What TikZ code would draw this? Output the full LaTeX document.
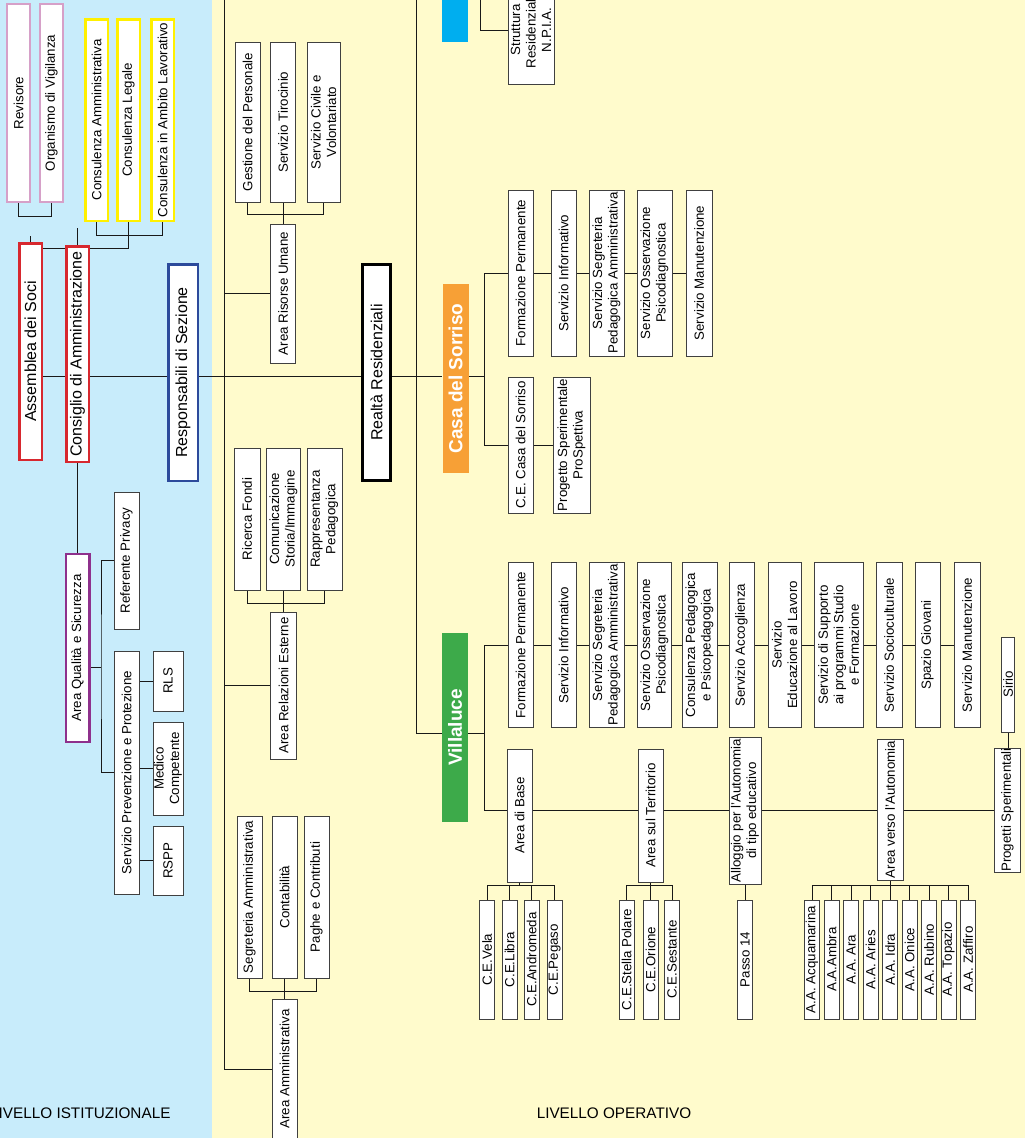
\documentclass[tikz,border=0pt]{standalone}
\usepackage{fontspec}
\setmainfont{Liberation Sans}
\usetikzlibrary{calc}

\pgfdeclarelayer{back}
\pgfdeclarelayer{lines}
\pgfsetlayers{back,lines,main}

\definecolor{bluebg}{RGB}{200,236,251}
\definecolor{yellowbg}{RGB}{255,251,204}
\definecolor{pinkorg}{RGB}{214,160,200}
\definecolor{yellowcons}{RGB}{255,240,0}
\definecolor{redcda}{RGB}{215,40,47}
\definecolor{navyresp}{RGB}{44,74,155}
\definecolor{purplearea}{RGB}{142,48,140}
\definecolor{orangecasa}{RGB}{247,160,54}
\definecolor{greenvl}{RGB}{61,170,74}
\definecolor{cyannpia}{RGB}{0,174,239}

\tikzset{
box/.style={draw=black!75, fill=white, line width=0.9pt, rotate=90, inner sep=0pt, align=center, font=\fontsize{13.3}{15.5}\selectfont},
boxsize/.style 2 args={minimum height=#1pt, minimum width=#2pt},
head/.style={box, line width=2.5pt, font=\fontsize{16}{19}\selectfont},
sede/.style={rotate=90, inner sep=0pt, text=white, font=\fontsize{19}{22}\selectfont\bfseries},
link/.style={draw=black!90, line width=0.9pt}}

\begin{document}
\begin{tikzpicture}[x=1pt, y=-1pt]

                %1 unit = 1 pixel of the 1025x1138 sheet, y grows downwards
                %rotated boxes: east = top, west = bottom, north = left, south = right
                \useasboundingbox (0,0) rectangle (1025,1138);

                \begin{pgfonlayer}{back}
                \fill[bluebg] (0,0) rectangle (212,1138);
                \fill[yellowbg] (212,0) rectangle (1025,1138);
                \end{pgfonlayer}

                %livello istituzionale
                \node[box, draw=pinkorg, line width=2pt, boxsize={23}{198}] (revisore) at (18.5,103) {Revisore};
                \node[box, draw=pinkorg, line width=2pt, boxsize={23}{198}] (organismo) at (51.5,103) {Organismo di Vigilanza};
                \node[box, draw=yellowcons, line width=2.5pt, boxsize={22.5}{201.5}] (consamm) at (96.5,120) {Consulenza Amministrativa};
                \node[box, draw=yellowcons, line width=2.5pt, boxsize={22.5}{201.5}] (conslegale) at (128.5,120) {Consulenza Legale};
                \node[box, draw=yellowcons, line width=2.5pt, boxsize={22.5}{201.5}] (conslav) at (162.5,120) {Consulenza in Ambito Lavorativo};

                \node[head, draw=redcda, boxsize={22.5}{216.5}] (assemblea) at (30.5,351.5) {Assemblea dei Soci};
                \node[head, draw=redcda, boxsize={22.5}{215.5}] (consiglio) at (77.5,354) {Consiglio di Amministrazione};
                \node[head, draw=navyresp, boxsize={29.5}{216.5}] (resp) at (183,372.5) {Responsabili di Sezione};

                \node[box, draw=purplearea, line width=2.2pt, boxsize={23.8}{187.8}] (qualita) at (77.5,648) {Area Qualità e Sicurezza};
                \node[box, boxsize={25}{137}] (privacy) at (126.5,560.5) {Referente Privacy};
                \node[box, boxsize={25}{243}] (spp) at (126.5,772.5) {Servizio Prevenzione e Protezione};
                \node[box, boxsize={30}{60}] (rls) at (168,681) {RLS};
                \node[box, boxsize={30}{93}] (medico) at (168,768.5) {Medico\\Competente};
                \node[box, boxsize={30}{69}] (rspp) at (168,860.5) {RSPP};

                \node[anchor=east, font=\fontsize{15.3}{18}\selectfont] (livist) at (174,1113) {LIVELLO ISTITUZIONALE};

                %livello operativo: aree di sede
                \node[box, boxsize={25}{160}] (gestione) at (247.5,122) {Gestione del Personale};
                \node[box, boxsize={25}{160}] (tirocinio) at (283,122) {Servizio Tirocinio};
                \node[box, boxsize={33}{160}] (civile) at (323.5,122) {Servizio Civile e\\Volontariato};
                \node[box, boxsize={25}{139}] (risorse) at (283,293.5) {Area Risorse Umane};

                \node[box, boxsize={26}{142}] (fondi) at (247,519) {Ricerca Fondi};
                \node[box, boxsize={34}{142}] (comunic) at (283.5,519) {Comunicazione\\Storia/Immagine};
                \node[box, boxsize={35}{142}] (rappr) at (324.5,519) {Rappresentanza\\Pedagogica};
                \node[box, boxsize={26}{147}] (relaz) at (283.5,685.5) {Area Relazioni Esterne};

                \node[box, boxsize={25}{162}] (segramm) at (249.5,897) {Segreteria Amministrativa};
                \node[box, boxsize={25}{162}] (contab) at (284.5,897) {Contabilità};
                \node[box, boxsize={25}{162}] (paghe) at (316.5,897) {Paghe e Contributi};
                \node[box, boxsize={25}{140}] (amm) at (284.5,1069) {Area Amministrativa};

                \node[head, draw=black, line width=3pt, boxsize={28}{216}] (realta) at (376.5,372.5) {Realtà Residenziali};

                %realta residenziali
                \node[fill=cyannpia, rotate=90, inner sep=0pt, minimum width=84pt, minimum height=26pt] (npia) at (455,0) {};
                \node[box, boxsize={46}{108}] (strutt) at (531,30) {Struttura\\Residenziale\\N.P.I.A.};

                \node[sede, fill=orangecasa, boxsize={26}{189}] (casa) at (455.5,378.5) {Casa del Sorriso};
                \foreach \nm/\x/\w/\txt in {csform/520.5/25/Formazione Permanente, csinfo/563.5/25/Servizio Informativo,
                    csseg/606.5/35/Servizio Segreteria\\Pedagogica Amministrativa, csoss/654.5/35/Servizio Osservazione\\Psicodiagnostica,
                    csman/699/26/Servizio Manutenzione}
                    \node[box, boxsize={\w}{166}] (\nm) at (\x,273) {\txt};
                \node[box, boxsize={25}{136}] (cecasa) at (520.5,445) {C.E. Casa del Sorriso};
                \node[box, boxsize={37}{136}] (prosp) at (571.5,445) {Progetto Sperimentale\\ProSpettiva};

                \node[sede, fill=greenvl, boxsize={26}{189}] (villaluce) at (455,727.5) {Villaluce};
                \foreach \nm/\x/\w/\txt in {vlform/520.5/25/Formazione Permanente, vlinfo/563.5/25/Servizio Informativo,
                    vlseg/606.5/35/Servizio Segreteria\\Pedagogica Amministrativa, vloss/654.5/34/Servizio Osservazione\\Psicodiagnostica,
                    vlcons/699.5/35/Consulenza Pedagogica\\e Psicopedagogica, vlacc/741.5/25/Servizio Accoglienza,
                    vledu/784.5/33/Servizio\\Educazione al Lavoro, vlsupp/838.5/49/Servizio di Supporto\\ai programmi Studio\\e Formazione,
                    vlsocio/889/26/Servizio Socioculturale, vlgiov/927.5/25/Spazio Giovani, vlman/967/26/Servizio Manutenzione}
                    \node[box, boxsize={\w}{165}] (\nm) at (\x,645) {\txt};
                \node[box, boxsize={13}{95}] (sirio) at (1008,684.5) {Sirio};

                \node[box, boxsize={25}{133}] (base) at (519.5,815.5) {Area di Base};
                \node[box, boxsize={25}{133}] (terr) at (650.5,815.5) {Area sul Territorio};
                \node[box, boxsize={32}{147}] (alloggio) at (745,810.5) {Alloggio per l'Autonomia\\di tipo educativo};
                \node[box, boxsize={26}{141}] (verso) at (890,809.5) {Area verso l'Autonomia};
                \node[box, boxsize={26}{124}] (progetti) at (1007.5,810) {Progetti Sperimentali};

                \foreach \nm/\x/\txt in {cevela/487/C.E.Vela, celibra/509.5/C.E.Libra, ceandro/531.5/C.E.Andromeda, cepegaso/554.5/C.E.Pegaso,
                    cestella/626.5/C.E.Stella Polare, ceorione/650.5/C.E.Orione, cesest/672/C.E.Sestante, passo/745/Passo 14}
                    \node[box, boxsize={15}{119}] (\nm) at (\x,959.5) {\txt};
                \foreach \txt [count=\i] in {A.A. Acquamarina, A.A.Ambra, A.A. Ara, A.A. Aries, A.A. Idra,
                    A.A. Onice, A.A. Rubino, A.A. Topazio, A.A. Zaffiro}
                    \node[box, boxsize={15}{119}] (aa\i) at ({812+19.5*(\i-1)},959.5) {\txt};

                \node[font=\fontsize{15.3}{18}\selectfont] (livop) at (614,1113) {LIVELLO OPERATIVO};

                \coordinate (cdarow) at (0,248);
                \coordinate (mainrow) at (0,376);
                \coordinate (qsplit) at (101,667);
                \coordinate (hrtop) at (224,-2);
                \coordinate (hrend) at (224,1069);
                \coordinate (srtop) at (416,-2);
                \coordinate (npiatop) at (480,-2);
                \coordinate (csfork) at (484,376);
                \coordinate (vlrow) at (0,733);
                \coordinate (vlfork) at (484,733);
                \coordinate (vltop) at (484,645);
                \coordinate (vlbot) at (484,810);

                \begin{pgfonlayer}{lines}
                \draw[link] (revisore.west) -- ++(0,13) -| (organismo.west);
                \draw[link] (consamm.west) -- ++(0,13) -| (conslav.west);
                \draw[link] (conslegale.west) |- (assemblea.south |- cdarow);
                \draw[link] (assemblea.east) -- ++(0,-6);
                \draw[link] (consiglio.east) -- ++(0,-17);
                \draw[link] (assemblea.south |- mainrow) -- (casa.north |- mainrow);

                \draw[link] (consiglio.west) -- (qualita.east);
                \draw[link] (qualita.south |- qsplit) -- (qsplit);
                \draw[link] (privacy.north) -| (qsplit) |- (spp.north);
                \draw[link] (spp.south |- rls.north) -- (rls.north);
                \draw[link] (spp.south |- medico.north) -- (medico.north);
                \draw[link] (spp.south |- rspp.north) -- (rspp.north);

                \draw[link] (hrtop) -- (hrend) -- (amm.north);
                \draw[link] (risorse.north) -- (risorse.north -| hrtop);
                \draw[link] (relaz.north) -- (relaz.north -| hrtop);
                \draw[link] (gestione.west) -- ++(0,12) -| (civile.west);
                \draw[link] (tirocinio.west) -- (risorse.east);
                \draw[link] (fondi.west) -- ++(0,13) -| (rappr.west);
                \draw[link] (comunic.west) -- (relaz.east);
                \draw[link] (segramm.west) -- ++(0,13) -| (paghe.west);
                \draw[link] (contab.west) -- (amm.east);

                \draw[link] (srtop) |- (villaluce.north |- vlrow);
                \draw[link] (npiatop) |- (strutt.north);

                \draw[link] (casa.south |- mainrow) -- (csfork);
                \draw[link] (csform.north -| csfork) -- (cecasa.north -| csfork);
                \draw[link] (csform.north -| csfork) -- (csman.north);
                \draw[link] (cecasa.north -| csfork) -- (prosp.north);

                \draw[link] (villaluce.south |- vlrow) -- (vlfork);
                \draw[link] (vltop) -- (vlbot);
                \draw[link] (vltop) -- (vlman.north);
                \draw[link] (vlbot) -- (progetti.north);
                \draw[link] (sirio.west) -- (sirio.west |- progetti.east);

                \draw[link] (base.west) -- ++(0,4);
                \draw[link] (cevela.east) -- ++(0,-14) -| (cepegaso.east);
                \draw[link] (celibra.east) -- ++(0,-14);
                \draw[link] (ceandro.east) -- ++(0,-14);
                \draw[link] (cestella.east) -- ++(0,-14) -| (cesest.east);
                \draw[link] (terr.west) -- (ceorione.east);
                \draw[link] (alloggio.west) -- (passo.east);
                \draw[link] (aa1.east) -- ++(0,-14) -| (aa9.east);
                \foreach \i in {2,...,8}
                    \draw[link] (aa\i.east) -- ++(0,-14);
                \draw[link] (verso.west) -- (aa5.east);
                \end{pgfonlayer}

            \end{tikzpicture}
\end{document}
